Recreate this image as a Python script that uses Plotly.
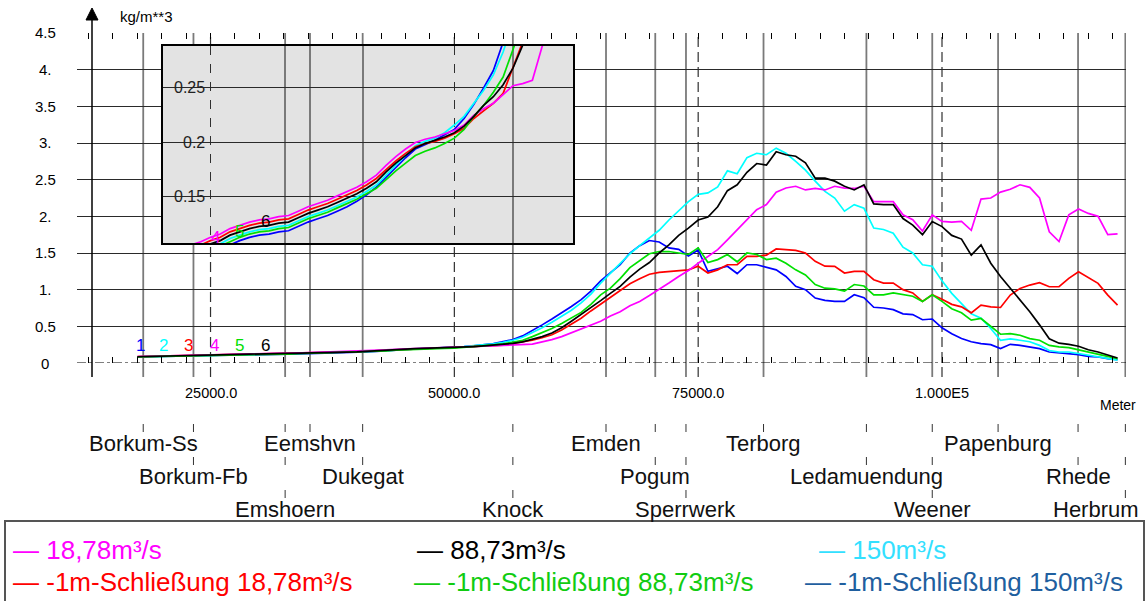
import plotly.graph_objects as go

# ---------------- data ----------------
dist_m = [17500] + list(range(18000, 118001, 1000))

conc_neg1m_150 = [  # blue (1)
    0.083, 0.084, 0.087, 0.089, 0.091, 0.093, 0.095, 0.097, 0.099, 0.102,
    0.106, 0.110, 0.113, 0.115, 0.116, 0.118, 0.119, 0.123, 0.127, 0.130,
    0.133, 0.137, 0.141, 0.146, 0.152, 0.159, 0.168, 0.177, 0.186, 0.194,
    0.198, 0.202, 0.207, 0.212, 0.222, 0.235, 0.250, 0.266, 0.292,
    0.32, 0.37, 0.44, 0.52, 0.60, 0.68, 0.77, 0.865, 0.98, 1.12,
    1.23, 1.34, 1.50, 1.60, 1.67, 1.65, 1.57, 1.55, 1.46, 1.54,
    1.25, 1.28, 1.32, 1.22, 1.34, 1.34, 1.30, 1.27, 1.18, 1.045,
    1.00, 0.886, 0.855, 0.84, 0.84, 0.93, 0.89, 0.76, 0.75, 0.727,
    0.67, 0.66, 0.59, 0.60, 0.48, 0.40, 0.333, 0.29, 0.265, 0.25,
    0.196, 0.255, 0.24, 0.22, 0.196, 0.15, 0.137, 0.128, 0.114, 0.09,
    0.082, 0.06, 0.045]
conc_150 = [  # cyan (2)
    0.084, 0.086, 0.089, 0.092, 0.094, 0.097, 0.099, 0.102, 0.104, 0.107,
    0.112, 0.115, 0.118, 0.120, 0.121, 0.123, 0.124, 0.128, 0.132, 0.135,
    0.138, 0.142, 0.146, 0.150, 0.155, 0.161, 0.170, 0.179, 0.188, 0.197,
    0.201, 0.204, 0.209, 0.216, 0.224, 0.236, 0.248, 0.262, 0.283,
    0.31, 0.35, 0.41, 0.48, 0.555, 0.64, 0.72, 0.82, 0.94, 1.09,
    1.22, 1.35, 1.49, 1.60, 1.70, 1.81, 1.95, 2.07, 2.20, 2.30,
    2.32, 2.40, 2.62, 2.58, 2.80, 2.86, 2.84, 2.93, 2.86, 2.75,
    2.63, 2.48, 2.34, 2.25, 2.07, 2.16, 2.11, 1.84, 1.82, 1.77,
    1.58, 1.50, 1.34, 1.32, 1.12, 0.95, 0.81, 0.67, 0.61, 0.47,
    0.31, 0.33, 0.31, 0.29, 0.24, 0.17, 0.15, 0.15, 0.13, 0.105,
    0.082, 0.055, 0.04]
conc_neg1m_1878 = [  # red (3)
    0.086, 0.088, 0.091, 0.094, 0.097, 0.101, 0.103, 0.106, 0.110, 0.113,
    0.118, 0.121, 0.124, 0.126, 0.127, 0.129, 0.130, 0.134, 0.138, 0.141,
    0.144, 0.148, 0.152, 0.156, 0.161, 0.167, 0.175, 0.183, 0.190, 0.196,
    0.199, 0.201, 0.204, 0.208, 0.213, 0.222, 0.229, 0.236, 0.245,
    0.268, 0.292, 0.31, 0.345, 0.386, 0.45, 0.53, 0.61, 0.71, 0.80,
    0.89, 0.98, 1.08, 1.15, 1.21, 1.235, 1.25, 1.26, 1.27, 1.32,
    1.227, 1.27, 1.34, 1.34, 1.455, 1.455, 1.47, 1.555, 1.545, 1.536,
    1.50, 1.386, 1.32, 1.318, 1.227, 1.25, 1.25, 1.136, 1.09, 1.09,
    1.00, 0.955, 0.84, 0.93, 0.87, 0.80, 0.766, 0.684, 0.79, 0.766,
    0.757, 0.926, 1.017, 1.063, 1.095, 1.04, 1.04, 1.154, 1.245, 1.168,
    1.086, 0.926, 0.79]
conc_1878 = [  # magenta (4)
    0.086, 0.088, 0.091, 0.095, 0.099, 0.103, 0.106, 0.109, 0.113, 0.116,
    0.121, 0.124, 0.127, 0.129, 0.130, 0.132, 0.133, 0.137, 0.141, 0.144,
    0.147, 0.151, 0.155, 0.159, 0.164, 0.170, 0.179, 0.187, 0.194, 0.200,
    0.203, 0.205, 0.208, 0.211, 0.216, 0.225, 0.231, 0.236, 0.244,
    0.252, 0.254, 0.257, 0.288, 0.318, 0.36, 0.41, 0.46, 0.52, 0.57,
    0.64, 0.70, 0.78, 0.84, 0.92, 1.00, 1.09, 1.18, 1.26, 1.36,
    1.455, 1.545, 1.68, 1.818, 1.955, 2.09, 2.16, 2.33, 2.386, 2.41,
    2.36, 2.38, 2.36, 2.41, 2.386, 2.38, 2.41, 2.20, 2.20, 2.20,
    2.02, 1.955, 1.80, 2.02, 1.93, 1.92, 1.93, 1.81, 2.235, 2.25,
    2.33, 2.37, 2.43, 2.395, 2.25, 1.79, 1.656, 2.02, 2.10, 2.04,
    2.00, 1.75, 1.76]
conc_neg1m_8873 = [  # green (5)
    0.084, 0.085, 0.088, 0.090, 0.093, 0.095, 0.097, 0.099, 0.102, 0.105,
    0.109, 0.113, 0.116, 0.118, 0.119, 0.121, 0.122, 0.126, 0.130, 0.133,
    0.136, 0.140, 0.144, 0.148, 0.153, 0.158, 0.166, 0.174, 0.181, 0.188,
    0.192, 0.195, 0.199, 0.204, 0.212, 0.224, 0.234, 0.246, 0.260,
    0.285, 0.31, 0.36, 0.41, 0.47, 0.54, 0.61, 0.69, 0.80, 0.93,
    1.02, 1.15, 1.30, 1.40, 1.49, 1.52, 1.52, 1.50, 1.48, 1.57,
    1.37, 1.41, 1.48, 1.38, 1.50, 1.48, 1.41, 1.43, 1.36, 1.27,
    1.20, 1.07, 1.02, 1.01, 0.98, 1.07, 1.05, 0.93, 0.93, 0.955,
    0.93, 0.91, 0.84, 0.93, 0.84, 0.74, 0.684, 0.584, 0.607, 0.493,
    0.392, 0.40, 0.378, 0.333, 0.31, 0.24, 0.219, 0.21, 0.18, 0.15,
    0.128, 0.09, 0.06]
conc_8873 = [  # black (6)
    0.085, 0.087, 0.090, 0.093, 0.096, 0.099, 0.101, 0.104, 0.107, 0.110,
    0.115, 0.118, 0.121, 0.123, 0.124, 0.126, 0.127, 0.131, 0.135, 0.138,
    0.141, 0.145, 0.149, 0.153, 0.158, 0.164, 0.173, 0.181, 0.188, 0.195,
    0.199, 0.202, 0.205, 0.209, 0.215, 0.224, 0.234, 0.242, 0.253,
    0.268, 0.289, 0.32, 0.36, 0.41, 0.48, 0.57, 0.66, 0.76, 0.85,
    0.95, 1.045, 1.17, 1.28, 1.37, 1.50, 1.61, 1.74, 1.84, 1.95,
    1.99, 2.13, 2.35, 2.43, 2.60, 2.72, 2.70, 2.88, 2.84, 2.82,
    2.73, 2.52, 2.52, 2.48, 2.41, 2.36, 2.43, 2.17, 2.16, 2.16,
    1.97, 1.88, 1.75, 1.93, 1.86, 1.74, 1.69, 1.47, 1.61, 1.36,
    1.18, 1.02, 0.86, 0.70, 0.52, 0.33, 0.27, 0.255, 0.228, 0.18,
    0.15, 0.105, 0.068]

series_values = [conc_neg1m_150, conc_150, conc_neg1m_1878,
                 conc_1878, conc_neg1m_8873, conc_8873]
series_numbers = ["1", "2", "3", "4", "5", "6"]
series_names = ["-1m-Schließung 150m³/s", "150m³/s",
                "-1m-Schließung 18,78m³/s", "18,78m³/s",
                "-1m-Schließung 88,73m³/s", "88,73m³/s"]

station_names = ["Borkum-Ss", "Borkum-Fb", "Emshoern", "Eemshvn", "Dukegat",
                 "Knock", "Emden", "Pogum", "Sperrwerk", "Terborg",
                 "Ledamuendung", "Weener", "Papenburg", "Rhede", "Herbrum"]
station_m = [18100, 23250, 32650, 35200, 40600, 56000, 65550, 70600, 73750,
             81700, 92250, 99000, 105750, 113950, 118800]

y_ticks = [0, 0.5, 1.0, 1.5, 2.0, 2.5, 3.0, 3.5, 4.0, 4.5]
y_tick_text = ["0", "0.5", "1.", "1.5", "2.", "2.5", "3.", "3.5", "4.", "4.5"]
x_major = [25000, 50000, 75000, 100000]
x_major_text = ["25000.0", "50000.0", "75000.0", "1.000E5"]
inset_y_ticks = [0.15, 0.2, 0.25]
inset_y_text = ["0.15", "0.2", "0.25"]

# ---------------- styling / layout helpers ----------------
W, H = 1146, 601
FONT = "Liberation Sans, Arial, sans-serif"
line_colors = ["#0000ff", "#00ffff", "#ff0000", "#ff00ff", "#00e000", "#000000"]
legend_colors = ["#1f5f9f", "#33e0ff", "#ff0000", "#ff00ff", "#11cc11", "#000000"]
# legend slot (row, x-start px) for each series
legend_slots = [(2, 803), (1, 817), (2, 11), (1, 11), (2, 412), (1, 415)]
station_rows = [1, 2, 3, 1, 2, 3, 1, 2, 3, 1, 2, 3, 1, 2, 3]


def px(x):
    return x / W


def py(y):
    return 1 - y / H


A_SCALE, B_OFF = 0.009753, -33.3  # metres -> pixels


def p2m(p):
    return (p - B_OFF) / A_SCALE


fig = go.Figure()

for vals, col in zip(series_values, line_colors):
    fig.add_trace(go.Scatter(x=dist_m, y=vals, mode="lines",
                             line=dict(color=col, width=1.7),
                             xaxis="x", yaxis="y", hoverinfo="skip",
                             showlegend=False))
for vals, col in zip(series_values, line_colors):
    fig.add_trace(go.Scatter(x=dist_m, y=vals, mode="lines",
                             line=dict(color=col, width=1.7),
                             xaxis="x2", yaxis="y2", hoverinfo="skip",
                             showlegend=False))

minor_ticks = [v for v in range(12500, 118001, 2500)]
inset_station_grid = [m for m in station_m if 25000 < m < p2m(573)]

shapes = []
# white background for main plot (plot_bgcolor is used by the inset)
shapes.append(dict(type="rect", xref="paper", yref="paper", x0=0, x1=1,
                   y0=py(600), y1=1, fillcolor="white", line=dict(width=0),
                   layer="below"))
for m in station_m:
    shapes.append(dict(type="line", xref="x", yref="paper", x0=m, x1=m,
                       y0=py(377), y1=py(33),
                       line=dict(color="#7a7a7a", width=1.8), layer="below"))
for m in x_major:
    shapes.append(dict(type="line", xref="x", yref="paper", x0=m, x1=m,
                       y0=py(377), y1=py(33),
                       line=dict(color="#303030", width=1.2, dash="10px,5px"),
                       layer="below"))
# dash-dot base line at 0
shapes.append(dict(type="line", xref="paper", yref="y", x0=px(77), x1=px(1126),
                   y0=0, y1=0, line=dict(color="black", width=1.2, dash="dashdot"),
                   layer="below"))
# y axis with arrow
shapes.append(dict(type="line", xref="paper", yref="paper", x0=px(92), x1=px(92),
                   y0=py(377), y1=py(18), line=dict(color="black", width=1.5),
                   layer="above"))
shapes.append(dict(type="path", xref="paper", yref="paper",
                   path=f"M {px(86)},{py(20)} L {px(98)},{py(20)} L {px(92)},{py(8)} Z",
                   fillcolor="black", line=dict(color="black", width=1),
                   layer="above"))
# station ticks over label rows
for m, r in zip(station_m, station_rows):
    for k in range(r):
        shapes.append(dict(type="line", xref="x", yref="paper", x0=m, x1=m,
                           y0=py(432 + 33 * k), y1=py(424 + 33 * k),
                           line=dict(color="#333333", width=1)))
# legend box
shapes.append(dict(type="rect", xref="paper", yref="paper", x0=px(5), x1=px(1144),
                   y0=py(610), y1=py(521), line=dict(color="#555555", width=2),
                   fillcolor="rgba(0,0,0,0)"))

ann = []
for v, t in zip(y_ticks, y_tick_text):
    ann.append(dict(x=px(45), xref="paper", y=v, yref="y", text=t,
                    showarrow=False, xanchor="center", yanchor="middle",
                    font=dict(size=15, color="black")))
for v, t in zip(x_major, x_major_text):
    ann.append(dict(x=v, xref="x", y=py(393), yref="paper", text=t,
                    showarrow=False, xanchor="center", yanchor="middle",
                    font=dict(size=14.5, color="black")))
ann.append(dict(x=px(1118), xref="paper", y=py(405), yref="paper", text="Meter",
                showarrow=False, xanchor="center", yanchor="middle",
                font=dict(size=14, color="black")))
ann.append(dict(x=px(146), xref="paper", y=py(17), yref="paper", text="kg/m**3",
                showarrow=False, xanchor="center", yanchor="middle",
                font=dict(size=15, color="black")))
for v, t in zip(inset_y_ticks, inset_y_text):
    ann.append(dict(x=px(207), xref="paper", y=v, yref="y2", text=t,
                    showarrow=False, xanchor="right", yanchor="middle",
                    font=dict(size=16, color="#222222")))
# station labels
for i, (name, m, r) in enumerate(zip(station_names, station_m, station_rows)):
    yc = 443 + 33 * (r - 1)
    if i == len(station_names) - 1:
        ann.append(dict(x=px(1141), xref="paper", y=py(yc), yref="paper", text=name,
                        showarrow=False, xanchor="right", yanchor="middle",
                        font=dict(size=22, color="#111111")))
    else:
        ann.append(dict(x=m, xref="x", y=py(yc), yref="paper", text=name,
                        showarrow=False, xanchor="center", yanchor="middle",
                        font=dict(size=22, color="#111111")))
# curve number labels
num_label_x = [17800, 20200, 22750, 25400, 28000, 30650]
for t, xm, col in zip(series_numbers, num_label_x, line_colors):
    ann.append(dict(x=xm, xref="x", y=0.232, yref="y", text=t, showarrow=False,
                    xanchor="center", yanchor="middle",
                    font=dict(size=17, color=col)))
inset_num = [("4", 25500, 0.1124, line_colors[3]), ("5", 28000, 0.118, line_colors[4]),
             ("6", 30650, 0.1271, line_colors[5])]
for t, xm, yv, col in inset_num:
    ann.append(dict(x=xm, xref="x2", y=yv, yref="y2", text=t, showarrow=False,
                    xanchor="center", yanchor="middle",
                    font=dict(size=17, color=col)))
# legend entries
for name, col, (row, x0) in zip(series_names, legend_colors, legend_slots):
    yc = 550 if row == 1 else 582
    ann.append(dict(x=px(x0), xref="paper", y=py(yc), yref="paper",
                    text="— " + name, showarrow=False, xanchor="left",
                    yanchor="middle", font=dict(size=26, color=col)))

fig.update_layout(
    width=W, height=H, margin=dict(l=0, r=0, t=0, b=0),
    paper_bgcolor="white", plot_bgcolor="#e3e3e3",
    font=dict(family=FONT, color="black"),
    showlegend=False,
    xaxis=dict(domain=[px(77), px(1126)], range=[p2m(77), p2m(1126)],
               showgrid=False, zeroline=False, showline=False,
               ticks="inside", tickmode="array", tickvals=minor_ticks,
               ticklen=6, tickwidth=1, tickcolor="black", mirror="ticks",
               showticklabels=False, fixedrange=True),
    yaxis=dict(domain=[py(363), py(33)], range=[0, 4.5], tickmode="array",
               tickvals=y_ticks[1:], showgrid=True, gridcolor="#2a2a2a",
               gridwidth=1, zeroline=False, showticklabels=False, ticks="",
               showline=False, fixedrange=True),
    xaxis2=dict(domain=[px(163), px(573)], range=[p2m(163), p2m(573)],
                anchor="y2", tickmode="array", tickvals=inset_station_grid,
                showgrid=True, gridcolor="#7a7a7a", gridwidth=1.8,
                minor=dict(tickmode="array", tickvals=x_major[:2], showgrid=True,
                           gridcolor="#303030", griddash="dash", gridwidth=1.2,
                           ticks=""),
                showticklabels=False, ticks="", zeroline=False, showline=True,
                linecolor="black", linewidth=2, mirror=True, fixedrange=True),
    yaxis2=dict(domain=[py(243), py(46)], range=[0.1078, 0.2885], anchor="x2",
                tickmode="array", tickvals=inset_y_ticks, showgrid=True,
                gridcolor="#2a2a2a", gridwidth=1, showticklabels=False, ticks="",
                zeroline=False, showline=True, linecolor="black", linewidth=2,
                mirror=True, fixedrange=True),
    shapes=shapes,
    annotations=ann,
)

fig.write_html("out.html", include_plotlyjs=True, config={"displayModeBar": False})
